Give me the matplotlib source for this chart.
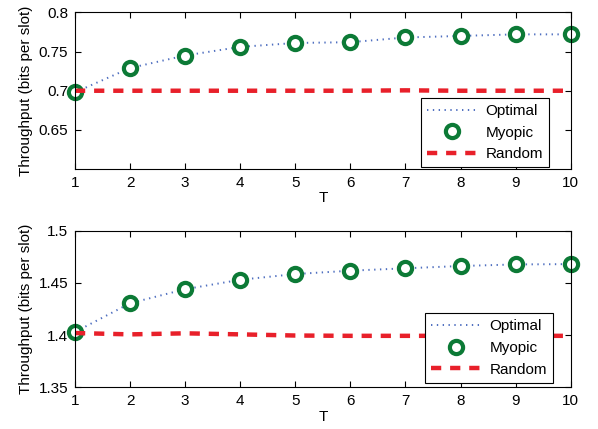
import numpy as np
import matplotlib.pyplot as plt

plt.rcParams['font.family'] = ['Liberation Sans', 'DejaVu Sans']

# T values (horizon)
T = np.arange(1, 11)

# upper panel
opt_top = [0.698, 0.729, 0.745, 0.756, 0.761, 0.762, 0.768, 0.770, 0.772, 0.772]
myo_top = [0.698, 0.729, 0.745, 0.756, 0.761, 0.762, 0.768, 0.770, 0.772, 0.772]
rnd_top = [0.700, 0.700, 0.700, 0.700, 0.700, 0.700, 0.7005, 0.700, 0.700, 0.700]

# lower panel
opt_bot = [1.403, 1.4305, 1.444, 1.453, 1.4585, 1.4617, 1.464, 1.4662, 1.4677, 1.468]
myo_bot = [1.403, 1.4305, 1.444, 1.453, 1.4585, 1.4617, 1.464, 1.4662, 1.4677, 1.468]
rnd_bot = [1.402, 1.4007, 1.4017, 1.4007, 1.3996, 1.3993, 1.3993, 1.3993, 1.3993, 1.3993]

blue = '#4f6fc0'
green = '#0c7a36'
red = '#e8202a'

fig = plt.figure(figsize=(5.98, 4.29), dpi=100)
ax1 = fig.add_axes([0.1254, 0.606, 0.829, 0.365])
ax2 = fig.add_axes([0.1254, 0.0972, 0.829, 0.365])


def panel(ax, opt, myo, rnd, ylim, yticks, ylabels, anchor):
    ax.plot(T, opt, color=blue, lw=1.4, dashes=(0.7, 2.3), label='Optimal')
    ax.plot(T, myo, 'o', ms=9.5, mew=3, mfc='white', mec=green, label='Myopic')
    ax.plot(T, rnd, color=red, lw=3.2, dashes=(2.3, 2.0), label='Random')
    ax.set_xlim(1, 10)
    ax.set_ylim(*ylim)
    ax.set_xticks(T)
    ax.set_yticks(yticks)
    ax.set_yticklabels(ylabels)
    ax.tick_params(direction='in', top=True, right=True, labelsize=11, length=4, width=0.8, pad=5)
    for s in ax.spines.values():
        s.set_linewidth(0.8)
    ax.set_xlabel('T', fontsize=11, labelpad=1)
    ax.set_ylabel('Throughput (bits per slot)', fontsize=11, labelpad=4)
    leg = ax.legend(loc='lower right', bbox_to_anchor=anchor, fontsize=11, handlelength=3.3,
                    handletextpad=0.5, labelspacing=0.5, borderpad=0.4, fancybox=False,
                    framealpha=1, edgecolor='black', borderaxespad=0)
    leg.get_frame().set_linewidth(0.8)
    for m in ax.lines:
        m.set_clip_on(False)


panel(ax1, opt_top, myo_top, rnd_top, (0.6, 0.8), [0.65, 0.7, 0.75, 0.8], ['0.65', '0.7', '0.75', '0.8'], (0.956, 0.011))
panel(ax2, opt_bot, myo_bot, rnd_bot, (1.35, 1.5), [1.35, 1.4, 1.45, 1.5], ['1.35', '1.4', '1.45', '1.5'], (0.964, 0.029))

fig.savefig('out.png', dpi=100)
